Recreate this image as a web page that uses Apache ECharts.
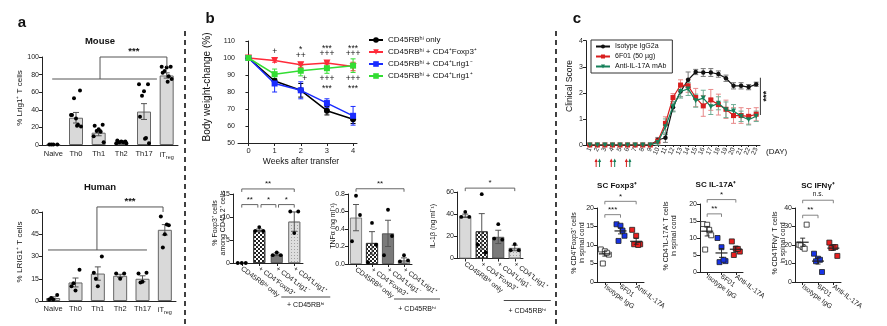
<!DOCTYPE html>
<html><head><meta charset="utf-8">
<script src="https://cdn.jsdelivr.net/npm/echarts@6/dist/echarts.min.js"></script>
<style>html,body{margin:0;padding:0;background:#fff}#c{width:887px;height:326px}</style>
</head><body><div id="c"></div>
<script>
// ---------------- DATA ----------------
// Panel a
const aCats = ['Naive', 'Th0', 'Th1', 'Th2', 'Th17', 'iTreg'];
const mouseMean = [0.5, 31, 14, 3, 38, 79];
const mouseSem = [0.3, 6, 3.5, 0.7, 9, 3];
const mouseDots = [
  [0.5, 0.5, 0.5, 0.5],
  [34, 62, 30, 53, 23, 34, 21, 22],
  [22, 23, 18, 16, 15, 10, 3],
  [5, 4, 4, 3, 3, 2, 2],
  [32, 69, 61, 56, 8, 69, 2, 7],
  [82, 89, 88, 84, 78, 89, 75, 72]
];
const humanMean = [2, 12.5, 18.5, 17, 15, 48];
const humanSem = [0.8, 3, 4.5, 1, 2, 3.5];
const humanDots = [
  [1, 4, 1, 2],
  [10, 21, 7, 12],
  [19, 30, 10, 15],
  [18.5, 18.5, 15],
  [18.5, 19, 13, 12.5],
  [57, 51, 45, 36, 51.5]
];
// Panel b (weight curves)
const bWeeks = [0, 1, 2, 3, 4];
const bOnly = [100, 86.5, 81, 69, 64];
const bOnlyErr = [0, 1.5, 4, 2.5, 2.5];
const bFoxp3 = [100, 98.5, 96, 97, 95];
const bFoxp3Err = [0, 1, 1.5, 1, 2.5];
const bLrigNeg = [100, 85, 81, 73.5, 66];
const bLrigNegErr = [0, 5, 5, 2.5, 5.5];
const bLrigPos = [100, 90.5, 92.5, 94, 95.5];
const bLrigPosErr = [0, 3, 3, 3, 4];
const bSeriesNames = ['CD45RBʰⁱ only', 'CD45RBʰⁱ + CD4⁺Foxp3⁺', 'CD45RBʰⁱ + CD4⁺Lrig1⁻', 'CD45RBʰⁱ + CD4⁺Lrig1⁺'];
// Panel b (bars)
const bBarCats = ['CD45RBʰⁱ only', '+ CD4⁺Foxp3⁺', '+ CD4⁺Lrig1⁻', '+ CD4⁺Lrig1⁺'];
const foxMean = [0, 7.1, 1.9, 9.0];
const foxErr = [0, 0.3, 0.3, 2.1];
const foxDots = [[0, 0, 0], [7.0, 7.8, 7.0], [1.7, 2.3, 1.7], [11.2, 6.5, 11.2]];
const tnfMean = [0.53, 0.24, 0.35, 0.04];
const tnfErr = [0.15, 0.13, 0.15, 0.03];
const tnfDots = [[0.26, 0.78, 0.56], [0.02, 0.47, 0.22], [0.1, 0.62, 0.32], [0.03, 0.1, 0.04]];
const il1Mean = [38.5, 24.5, 19.5, 9.5];
const il1Err = [1.5, 16, 6, 2.5];
const il1Dots = [[37.5, 42, 37.5], [12.5, 58, 5.5], [18, 31, 17], [7.5, 13, 7.5]];
// Panel c (clinical score)
const cDays = ['1','2','3','4','5','6','7','8','9','10','11','12','13','14','15','16','17','18','19','20','21','22','23'];
const cIso     = [0,0,0,0,0,0,0,0,0, 0.19, 0.28, 1.45, 2.05, 2.5, 2.8, 2.78, 2.78, 2.72, 2.56, 2.27, 2.27, 2.22, 2.33];
const cIsoErr  = [0,0,0,0,0,0,0,0,0, 0.1, 0.18, 0.15, 0.2, 0.3, 0.1, 0.15, 0.15, 0.12, 0.12, 0.12, 0.12, 0.1, 0.08];
const c6F01    = [0,0,0,0,0,0,0,0,0, 0.15, 0.83, 1.82, 2.3, 2.27, 1.82, 1.5, 1.73, 1.55, 1.37, 1.13, 1.13, 1.1, 1.18];
const c6F01Err = [0,0,0,0,0,0,0,0,0, 0.1, 0.25, 0.15, 0.2, 0.25, 0.35, 0.4, 0.4, 0.4, 0.35, 0.3, 0.3, 0.3, 0.25];
const cAnti    = [0,0,0,0,0,0,0,0,0, 0.1, 0.7, 1.47, 2.05, 2.15, 1.7, 1.8, 1.47, 1.6, 1.35, 1.3, 1.1, 0.97, 1.1];
const cAntiErr = [0,0,0,0,0,0,0,0,0, 0.1, 0.3, 0.2, 0.25, 0.25, 0.25, 0.3, 0.3, 0.25, 0.3, 0.25, 0.2, 0.2, 0.2];
const cNames = ['Isotype IgG2a', '6F01 (50 µg)', 'Anti-IL-17A mAb'];
// Panel c (spinal cord)
const cCats = ['Isotype IgG', '6F01', 'Anti-IL-17A'];
const foxpDots = [[8.8, 7.4, 8.3, 5.0, 7.9], [15.6, 12.5, 15.2, 11.1, 13.9], [14.1, 10.2, 12.5, 10.2, 10.0]];
const foxpMean = [7.6, 13.8, 11.0];
const foxpSem = [0.6, 0.8, 0.8];
const il17Dots = [[14.1, 10.8, 13.9, 6.6, 12.4], [10.0, 3.2, 7.3, 2.9, 3.6], [9.0, 6.0, 6.9, 5.0, 6.8]];
const il17Mean = [12.0, 5.6, 6.7];
const il17Sem = [1.4, 1.3, 0.7];
const ifnDots = [[20.2, 31, 18.9, 19.8, 18.0], [15.3, 5.4, 12.6, 11.2, 12.0], [21.3, 14.1, 18.9, 18.4, 18.9]];
const ifnMean = [21.5, 11.3, 18.3];
const ifnSem = [2.2, 1.6, 1.2];

// ---------------- CHART ----------------
const FONT = '"Liberation Sans", Arial, sans-serif';
const AX = '#222';
const chart = echarts.init(document.getElementById('c'), null, {renderer: 'canvas', width: 887, height: 326});

const grids = [
  {left: 42, top: 57, width: 136, height: 88},
  {left: 42, top: 212, width: 134, height: 89},
  {left: 238, top: 41, width: 119, height: 102},
  {left: 233, top: 194, width: 70, height: 69},
  {left: 348, top: 194, width: 64, height: 70},
  {left: 457, top: 192, width: 66, height: 66.5},
  {left: 586, top: 40.7, width: 174, height: 104.3},
  {left: 597, top: 208, width: 47, height: 74},
  {left: 700, top: 204, width: 43, height: 68},
  {left: 795, top: 208, width: 46, height: 74}
].map(g => Object.assign({outerBoundsMode: 'none', containLabel: false}, g));

function yAx(gi, min, max, interval, fmt) {
  return {gridIndex: gi, type: 'value', min, max, interval,
    axisLine: {show: true, lineStyle: {color: AX, width: 1}},
    axisTick: {show: true, length: 3, lineStyle: {color: AX}},
    splitLine: {show: false},
    axisLabel: {fontSize: 7, color: '#222', margin: 3, fontFamily: FONT, formatter: fmt}};
}
function xCat(gi, data, lab, tick) {
  return {gridIndex: gi, type: 'category', data, boundaryGap: true,
    axisLine: {show: true, lineStyle: {color: AX, width: 1}},
    axisTick: Object.assign({show: false, alignWithLabel: true, length: 3, lineStyle: {color: AX}}, tick || {}),
    splitLine: {show: false},
    axisLabel: Object.assign({fontSize: 7, color: '#222', fontFamily: FONT, interval: 0, margin: 4}, lab || {})};
}

const xAxes = [
  xCat(0, aCats, {fontSize: 7.5, margin: 5, formatter: v => v === 'iTreg' ? 'iT{s|reg}' : v, rich: {s: {fontSize: 5.5, padding: [4, 0, 0, 0], fontFamily: FONT, color: '#222'}}}),
  xCat(1, aCats, {fontSize: 7.5, margin: 4, formatter: v => v === 'iTreg' ? 'iT{s|reg}' : v, rich: {s: {fontSize: 5.5, padding: [4, 0, 0, 0], fontFamily: FONT, color: '#222'}}}),
  {gridIndex: 2, type: 'value', min: -0.4, max: 4.15,
    axisLine: {show: true, onZero: false, lineStyle: {color: AX}},
    axisTick: {show: true, length: 3, customValues: bWeeks, lineStyle: {color: AX}},
    splitLine: {show: false},
    axisLabel: {fontSize: 7.5, color: '#222', fontFamily: FONT, margin: 4, customValues: bWeeks}},
  xCat(3, bBarCats, {rotate: -37, fontSize: 7, margin: 5}, {show: true}),
  xCat(4, bBarCats, {rotate: -37, fontSize: 7, margin: 5}, {show: true}),
  xCat(5, bBarCats, {rotate: -37, fontSize: 7, margin: 5}, {show: true}),
  xCat(6, cDays, {rotate: 65, fontSize: 6.5, margin: 3}, {show: true, length: 2}),
  xCat(7, cCats, {rotate: -37, fontSize: 7, margin: 4}, {show: true}),
  xCat(8, cCats, {rotate: -37, fontSize: 7, margin: 4}, {show: true}),
  xCat(9, cCats, {rotate: -37, fontSize: 7, margin: 4}, {show: true})
];
const yAxes = [
  yAx(0, 0, 100, 20),
  yAx(1, 0, 60, 15),
  yAx(2, 50, 110, 10),
  yAx(3, 0, 15, 5),
  yAx(4, 0, 0.8, 0.2, v => v.toFixed(1)),
  yAx(5, 0, 60, 20),
  yAx(6, 0, 4, 1),
  yAx(7, 0, 20, 5),
  yAx(8, 0, 20, 5),
  yAx(9, 0, 40, 10)
];

const series = [];
function barSeries(gi, vals, styleFn, width) {
  series.push({type: 'bar', xAxisIndex: gi, yAxisIndex: gi, barWidth: width, silent: true, z: 2,
    data: vals.map((v, i) => ({value: v, itemStyle: styleFn(i)}))});
}
function errSeries(gi, xs, means, errs, o) {
  series.push({type: 'custom', xAxisIndex: gi, yAxisIndex: gi, silent: true, z: o.z || 4,
    data: means.map((m, i) => [xs[i], m - errs[i], m + errs[i], m]),
    renderItem(p, api) {
      const x = api.value(0);
      const lo = api.coord([x, api.value(1)]), hi = api.coord([x, api.value(2)]), mid = api.coord([x, api.value(3)]);
      const st = {stroke: o.color, lineWidth: o.lw || 1};
      const ch = [];
      if (api.value(2) - api.value(1) > 1e-9) {
        ch.push({type: 'line', shape: {x1: lo[0], y1: lo[1], x2: hi[0], y2: hi[1]}, style: st});
        ch.push({type: 'line', shape: {x1: hi[0] - o.cap, y1: hi[1], x2: hi[0] + o.cap, y2: hi[1]}, style: st});
        ch.push({type: 'line', shape: {x1: lo[0] - o.cap, y1: lo[1], x2: lo[0] + o.cap, y2: lo[1]}, style: st});
      }
      if (o.meanW) ch.push({type: 'line', shape: {x1: mid[0] - o.meanW, y1: mid[1], x2: mid[0] + o.meanW, y2: mid[1]}, style: {stroke: o.color, lineWidth: o.meanLw || 1.2}});
      return {type: 'group', children: ch};
    }});
}
function dotSeries(gi, groups, o) {
  const data = [];
  groups.forEach((g, i) => g.forEach((v, k) => data.push([i, v, k, g.length])));
  series.push({type: 'custom', xAxisIndex: gi, yAxisIndex: gi, silent: true, z: o.z || 5, data,
    renderItem(p, api) {
      const i = api.value(0), v = api.value(1), k = api.value(2), n = api.value(3);
      const c = api.coord([i, v]);
      const cx = c[0] + o.jit(k, n), cy = c[1], r = o.size / 2;
      const style = {fill: o.fill(i), stroke: o.stroke || null, lineWidth: o.lw || 0};
      if (o.shape === 'rect') return {type: 'rect', shape: {x: cx - r, y: cy - r, width: 2 * r, height: 2 * r}, style};
      return {type: 'circle', shape: {cx, cy, r}, style};
    }});
}
const idx = arr => arr.map((_, i) => i);

// Panel a
const JA = [-4, 4, 0, -2, 2, -5, 5, 1, -1];
const jitA = (k, n) => n === 1 ? 0 : JA[k % JA.length];
const aBarStyle = () => ({color: '#d9d9d9', borderColor: '#666', borderWidth: 1});
[[0, mouseMean, mouseSem, mouseDots], [1, humanMean, humanSem, humanDots]].forEach(([gi, m, s, d]) => {
  barSeries(gi, m, aBarStyle, 14);
  errSeries(gi, idx(m), m, s, {color: '#555', cap: 3, lw: 1});
  dotSeries(gi, d, {size: 4, jit: jitA, fill: () => '#000'});
});

// Panel b lines
const bCols = ['#000000', '#ff2b3a', '#1a2cff', '#33dd33'];
const bSym = [['circle', 6, 0], ['triangle', 7, 180], ['rect', 6, 0], ['rect', 6, 0]];
[[bOnly, bOnlyErr], [bFoxp3, bFoxp3Err], [bLrigNeg, bLrigNegErr], [bLrigPos, bLrigPosErr]].forEach(([v, e], j) => {
  errSeries(2, bWeeks, v, e, {color: bCols[j], cap: 2.5, lw: 1, z: 3});
  series.push({type: 'line', name: bSeriesNames[j], xAxisIndex: 2, yAxisIndex: 2, z: 4 + j,
    data: bWeeks.map((w, i) => [w, v[i]]),
    symbol: bSym[j][0], symbolSize: bSym[j][1], symbolRotate: bSym[j][2], showAllSymbol: true,
    lineStyle: {color: bCols[j], width: 1.5}, itemStyle: {color: bCols[j]}});
});

// Panel b bars
const bBarStyles = [
  {color: '#d9d9d9', borderColor: '#666', borderWidth: 0.8},
  {color: '#ffffff', borderColor: '#333', borderWidth: 0.8, decal: {symbol: 'rect', symbolSize: 1, color: '#222', dashArrayX: [[2, 2], [0, 2, 2, 0]], dashArrayY: [2, 0], rotation: 0}},
  {color: '#7a7a7a', borderColor: '#444', borderWidth: 0.8},
  {color: '#dedede', borderColor: '#777', borderWidth: 0.8, decal: {symbol: 'rect', symbolSize: 1, color: '#a0a0a0', dashArrayX: [1, 2], dashArrayY: [1, 2], rotation: 0}}
];
const JB = [-4, 0, 4, 2];
[[3, foxMean, foxErr, foxDots], [4, tnfMean, tnfErr, tnfDots], [5, il1Mean, il1Err, il1Dots]].forEach(([gi, m, e, d]) => {
  barSeries(gi, m, i => bBarStyles[i], 12);
  errSeries(gi, idx(m), m, e, {color: '#555', cap: 3, lw: 1});
  dotSeries(gi, d, {size: 3.8, jit: (k) => JB[k % JB.length], fill: () => '#000'});
});

// Panel c clinical score
const cCols = ['#111111', '#d81e1e', '#16805a'];
const cErrCols = ['#777777', '#e88a8a', '#6fae95'];
const cSym = [['circle', 4.5, 0], ['rect', 5, 0], ['triangle', 5, 180]];
[[cIso, cIsoErr], [c6F01, c6F01Err], [cAnti, cAntiErr]].forEach(([v, e], j) => {
  errSeries(6, idx(v), v, e, {color: cErrCols[j], cap: 2.5, lw: 1, z: 3});
  series.push({type: 'line', name: cNames[j], xAxisIndex: 6, yAxisIndex: 6, z: 4 + j, data: v,
    symbol: cSym[j][0], symbolSize: cSym[j][1], symbolRotate: cSym[j][2], showAllSymbol: true,
    lineStyle: {color: cCols[j], width: 1.2}, itemStyle: {color: cCols[j]}});
});

// Panel c spinal cord scatter
const JC = [-4, 4, 0, -2, 2];
const cFill = ['#ffffff', '#1733e6', '#ea1f1f'];
[[7, foxpDots, foxpMean, foxpSem], [8, il17Dots, il17Mean, il17Sem], [9, ifnDots, ifnMean, ifnSem]].forEach(([gi, d, m, s]) => {
  dotSeries(gi, d, {shape: 'rect', size: 5, jit: k => JC[k % JC.length], fill: i => cFill[i], stroke: '#222', lw: 0.8, z: 4});
  errSeries(gi, idx(m), m, s, {color: '#222', cap: 2.5, lw: 0.9, meanW: 6, meanLw: 1.2, z: 6});
});

const legends = [
  {data: bSeriesNames, left: 368, top: 36, orient: 'vertical', itemWidth: 14, itemHeight: 7, itemGap: 4,
    textStyle: {fontSize: 8, fontFamily: FONT, color: '#111'}, selectedMode: false, padding: 0},
  {data: cNames, left: 591, top: 40, orient: 'vertical', itemWidth: 14, itemHeight: 5, itemGap: 3,
    borderColor: '#333', borderWidth: 1, padding: [3, 6, 3, 4],
    textStyle: {fontSize: 7, fontFamily: FONT, color: '#111'}, selectedMode: false}
];

chart.setOption({animation: false, grid: grids, xAxis: xAxes, yAxis: yAxes, series, legend: legends,
  textStyle: {fontFamily: FONT}});

// ---------------- ANNOTATIONS ----------------
function P(gi, x, y) {
  const a = chart.convertToPixel({xAxisIndex: gi, yAxisIndex: gi}, [0, y]);
  const b = chart.convertToPixel({xAxisIndex: gi, yAxisIndex: gi}, [1, y]);
  return [a[0] + x * (b[0] - a[0]), a[1]];
}
const G = [];
function T(x, y, s, o) {
  o = o || {};
  G.push({type: 'text', x, y, rotation: o.rot || 0, silent: true, z: 100,
    style: {text: s, fill: o.color || '#111', fontSize: o.size || 8, fontFamily: FONT, fontWeight: o.w || 'normal',
      align: o.align || 'center', verticalAlign: o.va || 'middle', lineHeight: o.lh}});
}
function L(points, o) {
  o = o || {};
  G.push({type: 'polyline', silent: true, z: 100, shape: {points},
    style: {stroke: o.color || '#222', lineWidth: o.lw || 1, fill: null, lineDash: o.dash || null}});
}
function bracket(gi, x1, x2, y, leg, label, o) {
  o = o || {};
  const a = P(gi, x1, y), b = P(gi, x2, y);
  L([[a[0], a[1] + leg], [a[0], a[1]], [b[0], b[1]], [b[0], b[1] + leg]], {color: o.color || '#555', lw: 0.9});
  T((a[0] + b[0]) / 2, a[1] - (o.dy || 5), label, {size: o.size || 8});
}
const R90 = Math.PI / 2;

// panel letters / titles
T(22, 23, 'a', {size: 15, w: 'bold'});
T(210, 19, 'b', {size: 15, w: 'bold'});
T(577, 19, 'c', {size: 15, w: 'bold'});
T(100, 41, 'Mouse', {size: 9.5, w: 'bold'});
T(100, 187, 'Human', {size: 9.5, w: 'bold'});
T(617, 186, 'SC Foxp3⁺', {size: 8, w: 'bold'});
T(716, 185, 'SC IL-17A⁺', {size: 8, w: 'bold'});
T(818, 186, 'SC IFNγ⁺', {size: 8, w: 'bold'});

// axis titles
T(20, 98, '% Lrig1⁺ T cells', {size: 8, rot: R90});
T(20, 252, '% LRIG1⁺ T cells', {size: 8, rot: R90});
T(207, 87, 'Body weight-change (%)', {size: 10, rot: R90});
T(301, 162, 'Weeks after transfer', {size: 8.5});
T(219, 223, '% Foxp3⁺ cells\namong CD45.2⁺ cells', {size: 7, rot: R90, lh: 8});
T(333, 226, 'TNFα (ng ml⁻¹)', {size: 7, rot: R90});
T(433, 226, 'IL-1β (ng ml⁻¹)', {size: 7, rot: R90});
T(570, 86, 'Clinical Score', {size: 8.5, rot: R90});
T(578, 243, '% CD4⁺Foxp3⁺ cells\nin spinal cord', {size: 7, rot: R90, lh: 8});
T(670, 236, '% CD4⁺IL-17A⁺ T cells\nin spinal cord', {size: 7, rot: R90, lh: 8});
T(779, 243, '% CD4⁺IFNγ⁺ T cells\nin spinal cord', {size: 7, rot: R90, lh: 8});
T(766, 152, '(DAY)', {size: 8, align: 'left'});

// dashed separators
L([[185, 31], [185, 326]], {color: '#111', lw: 1.6, dash: [5, 4]});
L([[556, 31], [556, 326]], {color: '#111', lw: 1.6, dash: [5, 4]});

// panel a significance
(function () {
  let a = P(0, -0.05, 75), b = P(0, 4.57, 75);
  L([a, b], {color: '#555'});
  L([P(0, 2.06, 75), P(0, 2.06, 100), P(0, 5.01, 100), P(0, 5.01, 88.6)], {color: '#555'});
  const s = P(0, 3.55, 100); T(s[0], s[1] - 6, '***', {size: 9.5, w: 'bold'});
  a = P(1, -0.23, 34.4); b = P(1, 4.2, 34.4);
  L([a, b], {color: '#555'});
  L([P(1, 1.96, 34.4), P(1, 1.96, 63.4), P(1, 4.92, 63.4), P(1, 4.92, 60)], {color: '#555'});
  const s2 = P(1, 3.44, 63.4); T(s2[0], s2[1] - 6, '***', {size: 9.5, w: 'bold'});
})();

// panel b weight-curve significance marks
[[1, 103.5, '+'], [2, 106, '*'], [2, 101.2, '++'], [3, 106.6, '***'], [3, 102.8, '+++'], [4, 106.6, '***'], [4, 102.8, '+++'],
 [2.15, 87.6, '+'], [3, 87.6, '+++'], [3, 83.4, '***'], [4, 87.6, '+++'], [4, 83.4, '***']].forEach(([w, v, s]) => {
  const p = P(2, w, v); T(p[0], p[1] + (s.indexOf('*') >= 0 ? 2 : 0), s, {size: 8.5});
});

// panel b bar brackets
bracket(3, 0, 3, 16.1, 3, '**');
bracket(3, 0, 0.92, 12.7, 3, '**');
bracket(3, 1.1, 1.95, 12.7, 3, '*');
bracket(3, 2.1, 3, 12.7, 3, '*');
bracket(4, 0, 3, 0.86, 3, '**');
bracket(5, 0, 3, 63.5, 3, '*');
// "+ CD45RBhi" group labels
[[3, 297, 305], [4, 299, 309.5], [5, 300.5, 311]].forEach(([gi, ly, ty]) => {
  const x0 = P(gi, 1, 0)[0] + 22, x1 = P(gi, 3, 0)[0] + 36;
  L([[x0, ly], [x1, ly]], {color: '#333', lw: 0.9});
  T((x0 + x1) / 2, ty, '+ CD45RBʰⁱ', {size: 7});
});

// panel c clinical significance + arrows
(function () {
  const a = P(6, 22.55, 2.58), b = P(6, 22.55, 1.15);
  L([a, b], {color: '#333'});
  T(a[0] + 6, (a[1] + b[1]) / 2, '***', {size: 9, w: 'bold', rot: R90});
  [1, 3, 5].forEach(d => {
    const x = P(6, d, 0)[0];
    [[x - 1.2, '#d81e1e'], [x + 2.2, '#16805a']].forEach(([ax, col]) => {
      L([[ax, 167], [ax, 160]], {color: col, lw: 1});
      G.push({type: 'polygon', silent: true, z: 100, shape: {points: [[ax - 1.6, 162], [ax, 158.5], [ax + 1.6, 162]]}, style: {fill: col}});
    });
  });
})();

// panel c spinal-cord brackets
bracket(7, 0, 1, 18.2, 3, '***', {color: '#777'});
bracket(7, 0, 2, 21.8, 3, '*', {color: '#777'});
bracket(8, 0, 1, 17.1, 3, '**', {color: '#777'});
bracket(8, 0, 2, 21.3, 3, '*', {color: '#777'});
bracket(9, 0, 1, 36.1, 3, '**', {color: '#777'});
bracket(9, 0, 2, 44.2, 3, 'n.s.', {color: '#777', size: 6.5, dy: 6});

chart.setOption({graphic: G});
</script></body></html>
